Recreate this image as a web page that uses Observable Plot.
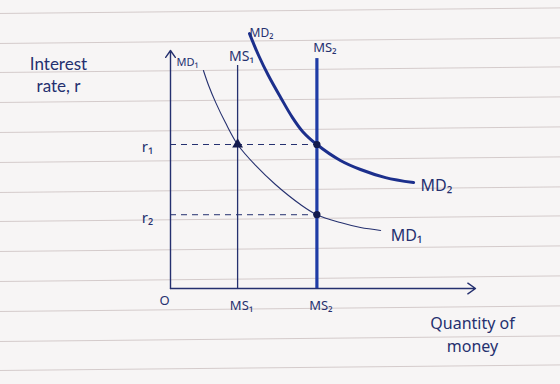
<!DOCTYPE html>
<html>
<head>
<meta charset="utf-8">
<script src="https://cdn.jsdelivr.net/npm/d3@7"></script>
<script src="https://cdn.jsdelivr.net/npm/@observablehq/plot@0.6"></script>
<style>
  html, body { margin: 0; padding: 0; }
  body { width: 560px; height: 384px; overflow: hidden; position: relative; background: #f7f5f5; }
  #paper {
    position: absolute; left: -20px; top: -40px; width: 600px; height: 464px;
    transform-origin: 300px 232px; transform: rotate(-0.57deg);
    background-image: repeating-linear-gradient(to bottom,
      rgba(0,0,0,0) 0px, rgba(0,0,0,0) 28.8px,
      rgba(150,128,128,0.36) 28.8px, rgba(150,128,128,0.36) 29.8px);
    background-position: 0 21.2px;
  }
  #chart { position: absolute; left: 0; top: 0; }
</style>
</head>
<body>
<div id="paper"></div>
<div id="chart"></div>
<script>
// ---- data (quantity of money on x, interest rate on y, arbitrary units) ----
const ms1 = 22;            // money supply 1
const ms2 = 48;            // money supply 2
const r1 = 60.5;           // interest rate r1
const r2 = 31;             // interest rate r2

const md1Quantity = [10.8, 12.5, 14.8, 18.0, 22, 27.9, 34.4, 42.6, 48, 55.7, 62.3, 68.9];
const md1Rate     = [91.6, 85.3, 78.2, 69.7, 60.5, 51.7, 43.7, 35.3, 31, 27.7, 25.6, 24.4];

const md2Quantity = [25.9, 28.9, 32.1, 36.1, 40.0, 43.3, 48, 55.7, 62.3, 70.5, 79.7];
const md2Rate     = [107.1, 97.9, 89.5, 80.3, 71.8, 66.0, 60.5, 53.8, 50.0, 46.6, 44.5];

const ms1Top = 93.7;
const ms2Top = 96.6;

const xTickValues = [ms1, ms2];
const xTickLabels = ["MS₁", "MS₂"];
const yTickValues = [r1, r2];
const yTickLabels = ["r₁", "r₂"];
const originLabel = "O";
const yTitle = ["Interest", "rate, r"];
const xTitle = ["Quantity of", "money"];

// ---- build tables ----
const md1 = md1Quantity.map((q, i) => ({q, r: md1Rate[i]}));
const md2 = md2Quantity.map((q, i) => ({q, r: md2Rate[i]}));
const xTicks = xTickValues.map((v, i) => ({v, label: xTickLabels[i]}));
const yTicks = yTickValues.map((v, i) => ({v, label: yTickLabels[i]}));

const ink = "#25306f";
const blue = "#1f3ca6";
const font = "'Noto Sans', Lato, sans-serif";

const plot = Plot.plot({
  width: 560,
  height: 384,
  marginLeft: 170,
  marginRight: 85,
  marginTop: 50,
  marginBottom: 96,
  x: {domain: [0, 100], axis: null},
  y: {domain: [0, 100], axis: null},
  style: {background: "transparent", overflow: "visible", fontFamily: font, color: ink},
  marks: [
    // axes
    Plot.arrow([{x1: 0, y1: 0, x2: 0, y2: 100}], {x1: "x1", y1: "y1", x2: "x2", y2: "y2", stroke: ink, strokeWidth: 1.4, headLength: 9, headAngle: 70}),
    Plot.arrow([{x1: 0, y1: 0, x2: 100, y2: 0}], {x1: "x1", y1: "y1", x2: "x2", y2: "y2", stroke: ink, strokeWidth: 1.4, headLength: 10, headAngle: 70}),
    // dashed rate guides
    Plot.ruleY(yTickValues, {x1: 0, x2: ms2, stroke: ink, strokeWidth: 1, strokeDasharray: "6,5"}),
    // money supply lines
    Plot.ruleX([ms1], {y1: 0, y2: ms1Top, stroke: ink, strokeWidth: 1.3}),
    Plot.ruleX([ms2], {y1: 0, y2: ms2Top, stroke: blue, strokeWidth: 3.2}),
    // money demand curves
    Plot.line(md1, {x: "q", y: "r", curve: "catmull-rom", stroke: ink, strokeWidth: 1.1}),
    Plot.line(md2, {x: "q", y: "r", curve: "catmull-rom", stroke: "#1c2f8c", strokeWidth: 3}),
    // equilibrium points
    Plot.dot([{q: ms1, r: r1}], {x: "q", y: "r", symbol: "triangle", r: 4, fill: "#141b4d"}),
    Plot.dot([{q: ms2, r: r1}, {q: ms2, r: r2}], {x: "q", y: "r", r: 3.6, fill: "#141b4d"}),
    // curve labels
    Plot.text([md1[0]], {x: "q", y: "r", text: () => "MD₁", dx: -16, dy: -8, fontSize: 11, fill: ink}),
    Plot.text([md1[md1.length - 1]], {x: "q", y: "r", text: () => "MD₁", dx: 10, dy: 5, textAnchor: "start", fontSize: 16, fill: ink}),
    Plot.text([md2[0]], {x: "q", y: "r", text: () => "MD₂", dx: 0, dy: 0, textAnchor: "start", fontSize: 12, fill: ink}),
    Plot.text([md2[md2.length - 1]], {x: "q", y: "r", text: () => "MD₂", dx: 7, dy: 3, textAnchor: "start", fontSize: 16, fill: ink}),
    Plot.text([{q: ms1, r: ms1Top}], {x: "q", y: "r", text: () => "MS₁", dx: 4, dy: -9, fontSize: 14, fill: ink}),
    Plot.text([{q: ms2, r: ms2Top}], {x: "q", y: "r", text: () => "MS₂", dx: 8, dy: -11, fontSize: 13, fill: ink}),
    // tick labels
    Plot.text(xTicks, {x: "v", y: 0, text: "label", dy: 17, dx: 4, fontSize: 13, fill: ink}),
    Plot.text([originLabel], {x: 0, y: 0, text: d => d, dx: -6, dy: 12, fontSize: 13, fill: ink}),
    Plot.text(yTicks, {x: 0, y: "v", text: "label", dx: -23, dy: 3, fontSize: 15, fill: ink}),
    // axis titles
    Plot.text([yTitle.join("\n")], {frameAnchor: "top-left", text: d => d, dx: -112, dy: 23, textAnchor: "middle", lineAnchor: "middle", lineHeight: 1.3, fontSize: 17, fontFamily: "Lato, sans-serif", fill: ink}),
    Plot.text([xTitle.join("\n")], {frameAnchor: "bottom-right", text: d => d, dx: -3, dy: 45, textAnchor: "middle", lineAnchor: "middle", lineHeight: 1.4, fontSize: 16, fill: ink})
  ]
});
document.getElementById("chart").appendChild(plot);
</script>
</body>
</html>
